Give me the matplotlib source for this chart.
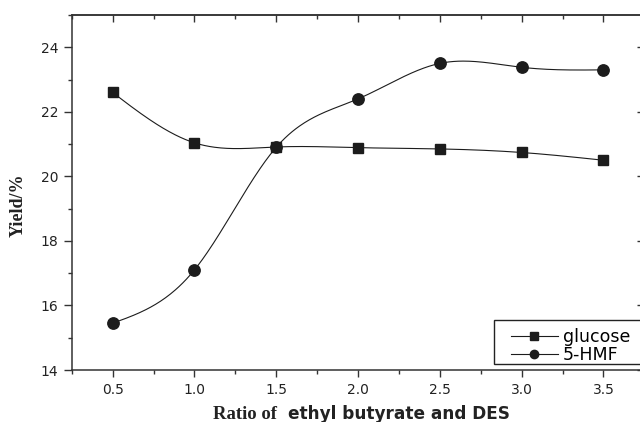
import numpy as np
import matplotlib
matplotlib.use("Agg")
import matplotlib.pyplot as plt
from matplotlib.lines import Line2D
from matplotlib.patches import Rectangle
from matplotlib.ticker import MultipleLocator

# Yield data versus the ethyl butyrate : DES ratio
ratio = [0.5, 1.0, 1.5, 2.0, 2.5, 3.0, 3.5]
glucose = [22.6, 21.04, 20.91, 20.89, 20.85, 20.74, 20.5]
hmf = [15.45, 17.1, 20.9, 22.4, 23.5, 23.38, 23.3]
series_names = ["glucose", "5-HMF"]
y_ticks = [14, 16, 18, 20, 22, 24]


def natural_spline(x, y, xs):
    """Natural cubic spline through (x, y), evaluated at xs."""
    x = np.asarray(x, float)
    y = np.asarray(y, float)
    n = len(x)
    h = np.diff(x)
    A = np.zeros((n, n))
    b = np.zeros(n)
    A[0, 0] = A[-1, -1] = 1.0
    for i in range(1, n - 1):
        A[i, i - 1] = h[i - 1]
        A[i, i] = 2 * (h[i - 1] + h[i])
        A[i, i + 1] = h[i]
        b[i] = 6 * ((y[i + 1] - y[i]) / h[i] - (y[i] - y[i - 1]) / h[i - 1])
    M = np.linalg.solve(A, b)
    idx = np.clip(np.searchsorted(x, xs) - 1, 0, n - 2)
    x0, x1 = x[idx], x[idx + 1]
    hh = x1 - x0
    t0, t1 = x1 - xs, xs - x0
    return (M[idx] * t0 ** 3 / (6 * hh) + M[idx + 1] * t1 ** 3 / (6 * hh)
            + (y[idx] / hh - M[idx] * hh / 6) * t0
            + (y[idx + 1] / hh - M[idx + 1] * hh / 6) * t1)


W, H = 640, 422
fig = plt.figure(figsize=(W / 100, H / 100), dpi=100)
ax = fig.add_axes([71.7 / W, 1 - 370 / H, (644.3 - 71.7) / W, (370 - 15) / H])

ink = "#1c1c1c"
xs = np.linspace(ratio[0], ratio[-1], 400)
ax.plot(xs, natural_spline(ratio, glucose, xs), color=ink, lw=0.8)
ax.plot(xs, natural_spline(ratio, hmf, xs), color=ink, lw=0.8)
ax.plot(ratio, glucose, ls="none", marker="s", ms=7.0, color=ink)
ax.plot(ratio, hmf, ls="none", marker="o", ms=8.2, color=ink)

ax.set_xlim(0.25, 3.75)
ax.set_ylim(14, 25)
ax.set_xticks(ratio)
ax.set_xticklabels([f"{v:.1f}" for v in ratio])
ax.set_yticks(y_ticks)
ax.xaxis.set_minor_locator(MultipleLocator(0.25))
ax.yaxis.set_minor_locator(MultipleLocator(1))

spine_c = "#333333"
for s in ax.spines.values():
    s.set_linewidth(1.1)
    s.set_color(spine_c)

ax.tick_params(which="both", direction="out", color=spine_c, width=1.0)
ax.tick_params(which="major", length=5, pad=4)
ax.tick_params(which="minor", length=3)
ax.tick_params(axis="y", which="major", length=5.5)
for lab in ax.get_xticklabels() + ax.get_yticklabels():
    lab.set_fontfamily("DejaVu Sans")
    lab.set_fontsize(10)
    lab.set_color("#222222")

# inward ticks on the top and right edges
top = ax.secondary_xaxis("top")
top.set_xticks(ratio)
top.xaxis.set_minor_locator(MultipleLocator(0.25))
top.tick_params(which="both", direction="in", labeltop=False, color=spine_c, width=1.0)
top.tick_params(which="major", length=5)
top.tick_params(which="minor", length=3)
top.spines["top"].set_linewidth(1.1)
top.spines["top"].set_color(spine_c)

right = ax.secondary_yaxis("right")
right.set_yticks(y_ticks)
right.yaxis.set_minor_locator(MultipleLocator(1))
right.tick_params(which="both", direction="in", labelright=False, color=spine_c, width=1.0)
right.tick_params(which="major", length=5)
right.tick_params(which="minor", length=3)

# axis titles
fig.text(18 / W, 1 - 205 / H, "Yield/%", rotation=90, ha="center", va="center",
         fontfamily="Liberation Serif", fontweight="bold", fontsize=13, color="#222222")
fig.text(213 / W, 1 - 419 / H, "Ratio of", ha="left", va="baseline",
         fontfamily="Liberation Serif", fontweight="bold", fontsize=13.5, color="#222222")
fig.text(288 / W, 1 - 419 / H, "ethyl butyrate and DES", ha="left", va="baseline",
         fontfamily="DejaVu Sans", fontweight="bold", fontsize=12.2, color="#222222")

# legend
fig.patches.append(Rectangle((494 / W, 1 - 364 / H), 170 / W, 44 / H,
                             transform=fig.transFigure, fill=True, facecolor="white",
                             edgecolor="#222222", lw=1.0, zorder=5))
handles = [Line2D([], [], color=ink, lw=0.8, marker="s", ms=5.5),
           Line2D([], [], color=ink, lw=0.8, marker="o", ms=6.0)]
leg = fig.legend(handles, series_names, loc="upper left",
                 bbox_to_anchor=(511 / W, 1 - 328.5 / H), bbox_transform=fig.transFigure,
                 frameon=False, borderpad=0, borderaxespad=0,
                 prop={"family": "DejaVu Sans", "size": 12.5},
                 handlelength=2.7, handletextpad=0.3, labelspacing=0.0)
leg.set_zorder(6)

fig.savefig("out.png", dpi=100)
